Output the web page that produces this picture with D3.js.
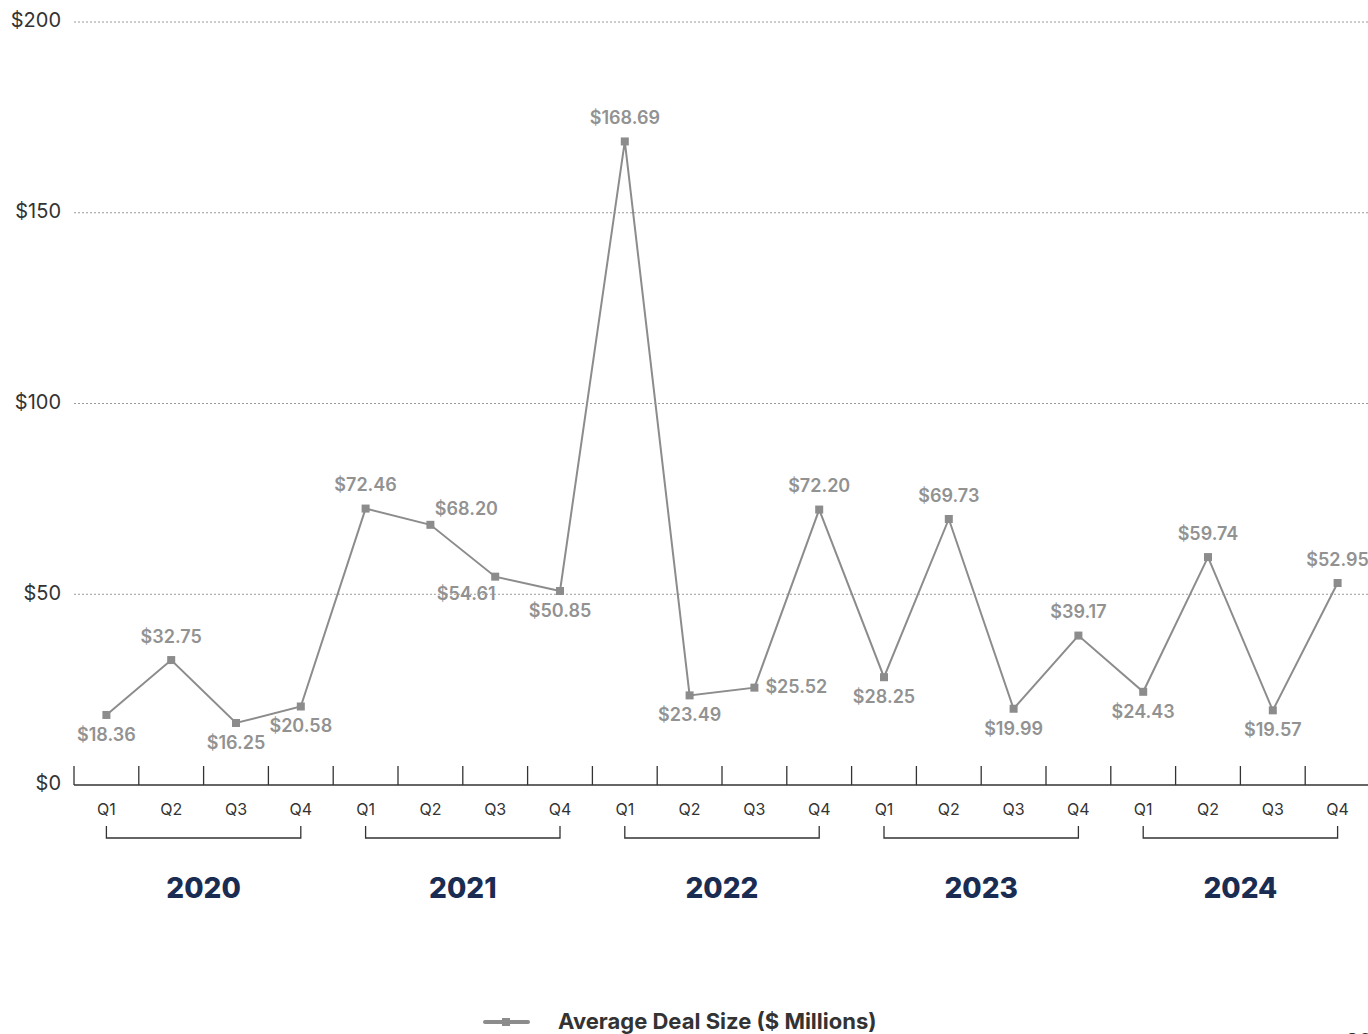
<!DOCTYPE html>
<html>
<head>
<meta charset="utf-8">
<script src="https://cdn.jsdelivr.net/npm/d3@7"></script>
<style>
  html, body { margin: 0; padding: 0; background: #fff; overflow: hidden; }
  svg { display: block; font-family: Inter, Lato, sans-serif; }
</style>
</head>
<body>
<svg id="chart" width="1368" height="1034"></svg>
<script>
// Average deal size by quarter, 2020–2024 ($ millions)
const years = ["2020", "2021", "2022", "2023", "2024"];
const quarters = ["Q1", "Q2", "Q3", "Q4"];
const dealSize = [
  18.36, 32.75, 16.25, 20.58,
  72.46, 68.20, 54.61, 50.85,
  168.69, 23.49, 25.52, 72.20,
  28.25, 69.73, 19.99, 39.17,
  24.43, 59.74, 19.57, 52.95
];
const yTicks = [0, 50, 100, 150, 200];
const seriesName = "Average Deal Size ($ Millions)";
// where each value label sits relative to its marker
const labelSide = [
  "below", "above", "below", "below",
  "above", "upright", "downleft", "below",
  "above", "below", "right", "above",
  "below", "above", "below", "above",
  "below", "above", "below", "above"
];

const svg = d3.select("#chart");
const grey = "#8c8c8c";
const labelGrey = "#929292";
const dark = "#333333";
const navy = "#1b2c52";

const left = 74, bandW = 64.8;
const idx = d3.range(dealSize.length);
const x = d3.scaleBand().domain(idx).range([left, left + bandW * idx.length]).padding(0);
const y = d3.scaleLinear().domain([0, 200]).range([785, 22]);
const cx = i => x(i) + x.bandwidth() / 2;

// dotted gridlines
svg.append("g").selectAll("line")
  .data(yTicks.filter(t => t > 0))
  .join("line")
  .attr("x1", left).attr("x2", 1368)
  .attr("y1", d => y(d)).attr("y2", d => y(d))
  .attr("stroke", "#9a9a9a").attr("stroke-width", 1)
  .attr("stroke-dasharray", "2,2");

// y tick labels
svg.append("g").selectAll("text")
  .data(yTicks)
  .join("text")
  .attr("x", 61).attr("y", d => y(d))
  .attr("text-anchor", "end").attr("dominant-baseline", "middle")
  .attr("font-size", 20).attr("fill", dark)
  .text(d => "$" + d);

// baseline axis with upward ticks at band boundaries
svg.append("line")
  .attr("x1", left).attr("x2", 1368)
  .attr("y1", y(0)).attr("y2", y(0))
  .attr("stroke", dark).attr("stroke-width", 1.5);
svg.append("g").selectAll("line")
  .data(idx)
  .join("line")
  .attr("x1", d => x(d)).attr("x2", d => x(d))
  .attr("y1", y(0) - 19).attr("y2", y(0))
  .attr("stroke", dark).attr("stroke-width", 1.3);

// quarter labels
svg.append("g").selectAll("text")
  .data(idx)
  .join("text")
  .attr("x", d => cx(d)).attr("y", 811)
  .attr("text-anchor", "middle").attr("dominant-baseline", "middle")
  .attr("font-size", 16).attr("fill", dark)
  .text(d => quarters[d % 4]);

// year brackets and labels
const yearG = svg.append("g").selectAll("g").data(years).join("g");
yearG.append("path")
  .attr("d", (d, k) => {
    const a = cx(k * 4), b = cx(k * 4 + 3);
    return `M${a},826V838H${b}V826`;
  })
  .attr("fill", "none").attr("stroke", dark).attr("stroke-width", 1.3);
yearG.append("text")
  .attr("x", (d, k) => (cx(k * 4) + cx(k * 4 + 3)) / 2)
  .attr("y", 890)
  .attr("text-anchor", "middle").attr("dominant-baseline", "middle")
  .attr("font-size", 28).attr("font-weight", 800).attr("fill", navy)
  .text(d => d);

// series line
svg.append("path")
  .datum(dealSize)
  .attr("d", d3.line().x((d, i) => cx(i)).y(d => y(d)))
  .attr("fill", "none").attr("stroke", grey).attr("stroke-width", 2);

// square markers
svg.append("g").selectAll("rect")
  .data(dealSize)
  .join("rect")
  .attr("x", (d, i) => cx(i) - 4).attr("y", d => y(d) - 4)
  .attr("width", 8).attr("height", 8)
  .attr("fill", grey);

// value labels
const offsets = {
  above: [0, -22, "middle"],
  below: [0, 21, "middle"],
  upright: [36, -15, "middle"],
  downleft: [-29, 18, "middle"],
  right: [11, 0, "start"]
};
svg.append("g").selectAll("text")
  .data(dealSize)
  .join("text")
  .attr("x", (d, i) => cx(i) + offsets[labelSide[i]][0])
  .attr("y", (d, i) => y(d) + offsets[labelSide[i]][1])
  .attr("text-anchor", (d, i) => offsets[labelSide[i]][2])
  .attr("dominant-baseline", "middle")
  .attr("font-size", 18).attr("font-weight", 600).attr("fill", labelGrey)
  .text(d => "$" + d3.format(".2f")(d));

// legend
const lg = svg.append("g");
lg.append("line")
  .attr("x1", 485).attr("x2", 528).attr("y1", 1022).attr("y2", 1022)
  .attr("stroke", grey).attr("stroke-width", 4).attr("stroke-linecap", "round");
lg.append("rect")
  .attr("x", 502).attr("y", 1018).attr("width", 8).attr("height", 8)
  .attr("fill", grey);
lg.append("text")
  .attr("x", 558).attr("y", 1023)
  .attr("dominant-baseline", "middle")
  .attr("font-size", 22).attr("font-weight", 700).attr("fill", dark)
  .text(seriesName);

// page number at the bottom edge
svg.append("text")
  .attr("x", 1346).attr("y", 1048)
  .attr("font-size", 20).attr("font-weight", 700).attr("fill", dark)
  .text("20");
</script>
</body>
</html>
